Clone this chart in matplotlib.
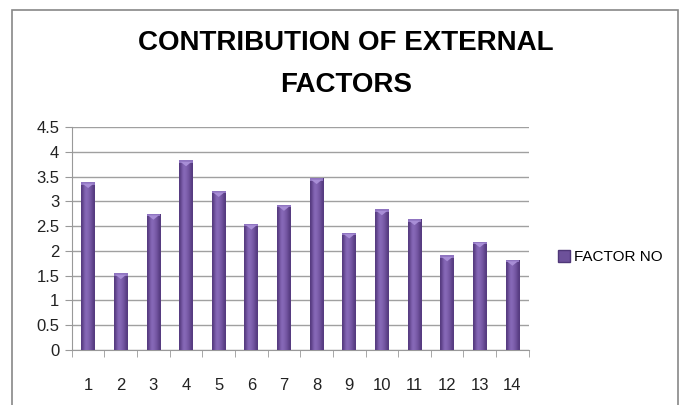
import matplotlib.pyplot as plt
import numpy as np
from matplotlib.lines import Line2D
from matplotlib.patches import Rectangle, Polygon
from matplotlib.colors import LinearSegmentedColormap

# data
factors = [str(i) for i in range(1, 15)]
values = [3.39, 1.55, 2.75, 3.83, 3.21, 2.55, 2.93, 3.47, 2.37, 2.84, 2.64, 1.91, 2.19, 1.82]
yticks = [0, 0.5, 1, 1.5, 2, 2.5, 3, 3.5, 4, 4.5]
ytick_labels = ['0', '0.5', '1', '1.5', '2', '2.5', '3', '3.5', '4', '4.5']
series_name = 'FACTOR NO'
title = 'CONTRIBUTION OF EXTERNAL\nFACTORS'

plt.rcParams['font.family'] = ['Liberation Sans', 'DejaVu Sans']

fig = plt.figure(figsize=(6.84, 4.05), dpi=100)
ax = fig.add_axes([0.105, 0.136, 0.668, 0.550])

x = np.arange(len(values))
bars = ax.bar(x, values, width=0.42, color='#7356a0', edgecolor='none', zorder=2)

# horizontal gradient on each bar (dark edges, lighter middle) + light cap on top
grad = np.array([[0.0, 0.6, 1.0, 0.85, 0.65, 0.35, 0.0]])
cmap = LinearSegmentedColormap.from_list('p', ['#553a7f', '#8a6bbb'])
for b in bars:
    x0, w, h = b.get_x(), b.get_width(), b.get_height()
    im = ax.imshow(grad, cmap=cmap, extent=(x0, x0 + w, 0, h), aspect='auto',
                   interpolation='bicubic', zorder=3)
    im.set_clip_path(b)
    ax.add_patch(Rectangle((x0, h - 0.05), w, 0.05, color='#8f74c0', zorder=4, lw=0))
    ax.add_patch(Polygon([(x0 + 0.1 * w, h - 0.03), (x0 + 0.9 * w, h - 0.03),
                          (x0 + 0.5 * w, h - 0.12)], closed=True,
                         color='#a88ed6', zorder=4, lw=0))

ax.set_xlim(-0.5, len(values) - 0.5)
ax.set_ylim(0, 4.5)
ax.set_yticks(yticks)
ax.set_yticklabels(ytick_labels)
ax.set_xticks(x)
ax.set_xticklabels(factors)
ax.set_xticks(np.arange(-0.5, len(values)), minor=True)
ax.tick_params(axis='x', which='major', length=0, pad=20, labelsize=12, colors='#222222')
ax.tick_params(axis='x', which='minor', length=5, color='#999999', direction='out')
ax.tick_params(axis='y', length=5, color='#999999', labelsize=12, colors='#222222', pad=4)
ax.grid(axis='y', color='#a0a0a0', lw=1, zorder=0)
ax.set_axisbelow(True)
for s in ['top', 'right']:
    ax.spines[s].set_visible(False)
for s in ['left', 'bottom']:
    ax.spines[s].set_color('#999999')

# two title lines placed separately
line1, line2 = title.split('\n')
fig.text(0.506, 0.893, line1, ha='center', va='center', fontsize=20, fontweight='bold')
fig.text(0.506, 0.790, line2, ha='center', va='center', fontsize=20, fontweight='bold')

handle = Line2D([], [], marker='s', ls='none', markersize=9, markerfacecolor='#6d519a',
                markeredgecolor='#4f3778')
fig.legend([handle], [series_name], loc='center left', bbox_to_anchor=(0.793, 0.365),
           frameon=False, fontsize=11, handletextpad=0.2, handlelength=1)

# outer chart border
fig.add_artist(Rectangle((12 / 684, -0.1), (678 - 12) / 684, 1.1 - 10 / 405,
                         transform=fig.transFigure, fill=False, edgecolor='#888888', lw=1.2))

fig.savefig('out.png', dpi=100)
